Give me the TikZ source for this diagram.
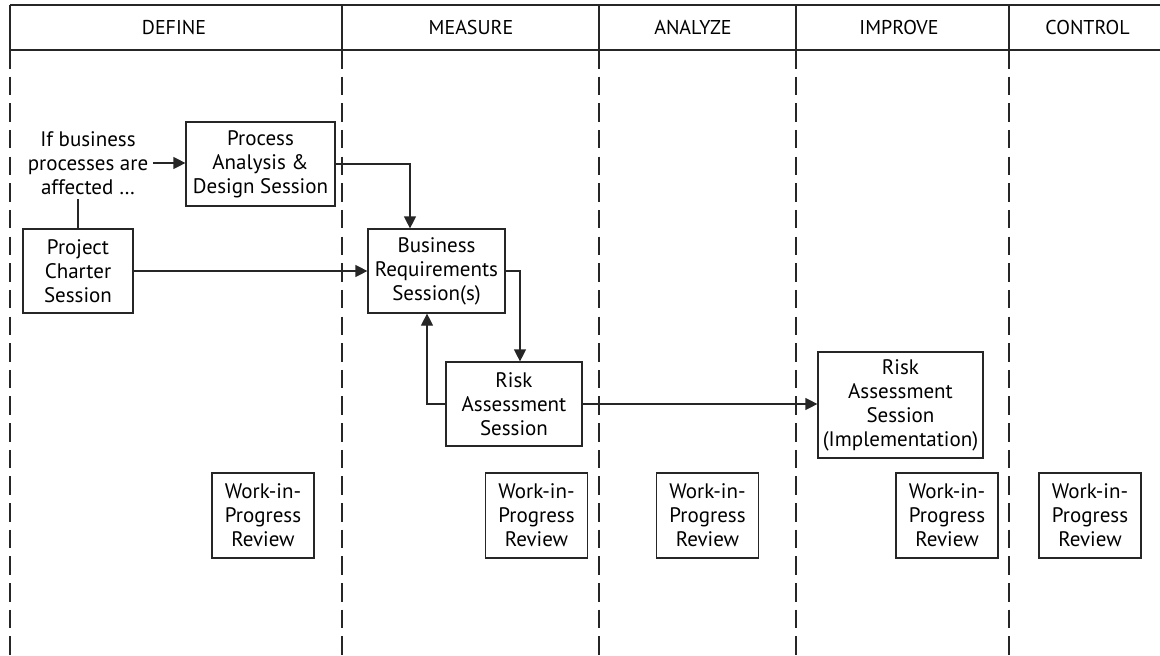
\documentclass[tikz,border=0pt]{standalone}
\usepackage{fontspec}
\setmainfont{PT Sans}
\usetikzlibrary{arrows.meta}
\begin{document}
\begin{tikzpicture}[x=1pt,y=-1pt,
  line width=1.2pt, draw=black!85,
  txt/.style={font=\fontsize{21}{24}\selectfont, align=center, inner sep=0pt},
  box/.style={txt, draw, minimum height=84pt},
  wip/.style={box, minimum width=102pt, minimum height=85pt},
  hdr/.style={font=\fontsize{20}{22}\selectfont, inner sep=0pt},
  rule/.style={draw=black!85, line width=1.2pt},
  lane/.style={rule, dash pattern=on 18.5pt off 8.15pt},
  arr/.style={rule, -{Triangle[length=12pt,width=12pt]}}
]
\useasboundingbox (0,0) rectangle (1160,656);
% header
\draw[rule] (10,5) -- (1160,5);
\draw[rule] (10,50) -- (1160,50);
\foreach \x in {10,342,599,796,1009} {
  \draw[rule] (\x,5) -- (\x,50);
  \draw[lane] (\x,50) -- (\x,656);
}
\node[hdr] (hdef) at (174,27.5) {DEFINE};
\node[hdr] (hmea) at (471,27.5) {MEASURE};
\node[hdr] (hana) at (693,27.5) {ANALYZE};
\node[hdr] (himp) at (899,27.5) {IMPROVE};
\node[hdr] (hcon) at (1087.5,27.5) {CONTROL};

% nodes
\node[txt, inner sep=4pt] (ifn) at (88,163) {If business\\processes are\\affected …};
\node[box, minimum width=149pt] (proc) at (260.5,164) {Process\\Analysis \&\\Design Session};
\node[box, minimum width=110pt] (proj) at (78,271) {Project\\Charter\\Session};
\node[box, minimum width=137pt] (bus) at (436.5,271) {Business\\Requirements\\Session(s)};
\node[box, minimum width=136pt] (risk) at (514,404) {Risk\\Assessment\\Session};
\node[box, minimum width=165pt, minimum height=106pt] (impl) at (900.5,405) {Risk\\Assessment\\Session\\(Implementation)};
\node[wip] (w1) at (263,515.5) {Work-in-\\Progress\\Review};
\node[wip] (w2) at (536.5,515.5) {Work-in-\\Progress\\Review};
\node[wip] (w3) at (707.5,515.5) {Work-in-\\Progress\\Review};
\node[wip] (w4) at (947,515.5) {Work-in-\\Progress\\Review};
\node[wip] (w5) at (1090,515.5) {Work-in-\\Progress\\Review};

% connectors
\draw[arr] (ifn.east) -- (proc.west |- ifn.east);
\draw[rule] (proj.north) -- (proj.north |- ifn.south);
\draw[arr] (proj.east) -- (bus.west);
\draw[arr] (proc.east) -| ([xshift=-26.5pt]bus.north);
\draw[arr] (bus.east) -| ([xshift=6pt]risk.north);
\draw[arr] (risk.west) -| ([xshift=-9.5pt]bus.south);
\draw[arr] (risk.east) -- (impl.west |- risk.east);
\end{tikzpicture}
\end{document}
